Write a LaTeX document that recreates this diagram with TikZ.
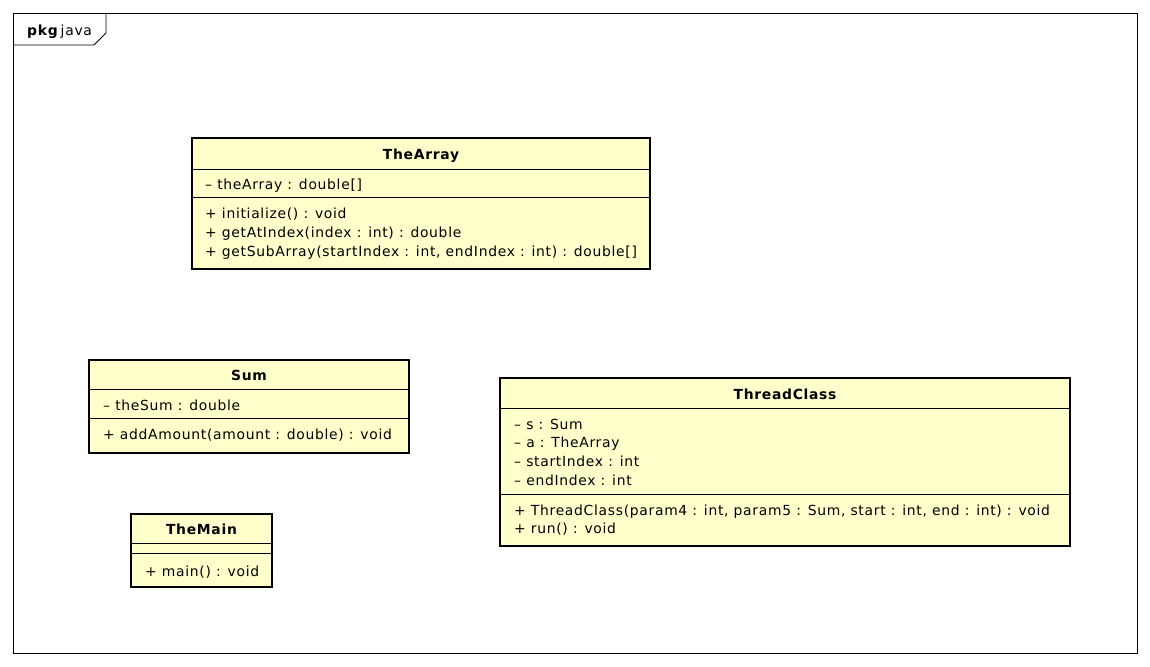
\documentclass[tikz,border=0pt]{standalone}
\usepackage{fontspec}
\setmainfont{DejaVu Sans}[LetterSpace=5]
\definecolor{classfill}{HTML}{FFFFCC}

\begin{document}
\begin{tikzpicture}[x=1pt,y=-1pt,font=\fontsize{13.9}{16}\selectfont]
\tikzset{
  classbox/.style={draw,line width=2.6pt,fill=classfill},
  divider/.style={line width=0.9pt},
  member/.style={anchor=base west,inner sep=0pt},
  classname/.style={anchor=base,inner sep=0pt,font=\fontsize{13.9}{16}\selectfont\bfseries}
}
\useasboundingbox (0,0) rectangle (1150,666);

% package frame
\draw[line width=0.9pt] (13,13) rectangle (1137,653);
\draw[line width=0.9pt] (13,45) -- (94,45) -- (106,33) -- (106,13);
\node[member] (pkg) at (27,36) {\textbf{pkg}\,java};

\begin{scope}[shift={(192,138)}]
\draw[classbox] (0,0) rectangle (458,131);
\draw[divider] (0,31) -- (458,31);
\draw[divider] (0,59) -- (458,59);
\node[classname] (arrayname) at (229,21) {TheArray};
\node[member] (arrayattr) at (13,51) {– theArray : double[]};
\node[member] (arrayinit) at (13,80) {+ initialize() : void};
\node[member] (arrayget) at (13,99) {+ getAtIndex(index : int) : double};
\node[member] (arraysub) at (13,118) {+ getSubArray(startIndex : int, endIndex : int) : double[]};
\end{scope}

\begin{scope}[shift={(89,360)}]
\draw[classbox] (0,0) rectangle (320,93);
\draw[divider] (0,29) -- (320,29);
\draw[divider] (0,58) -- (320,58);
\node[classname] (sumname) at (160,20) {Sum};
\node[member] (sumattr) at (14,50) {– theSum : double};
\node[member] (sumadd) at (14,79) {+ addAmount(amount : double) : void};
\end{scope}

\begin{scope}[shift={(500,378)}]
\draw[classbox] (0,0) rectangle (570,168);
\draw[divider] (0,30) -- (570,30);
\draw[divider] (0,116) -- (570,116);
\node[classname] (threadname) at (285,21) {ThreadClass};
\node[member] (threads) at (14,51) {– s : Sum};
\node[member] (threada) at (14,69) {– a : TheArray};
\node[member] (threadstart) at (14,88) {– startIndex : int};
\node[member] (threadend) at (14,107) {– endIndex : int};
\node[member] (threadctor) at (14,137) {+ ThreadClass(param4 : int, param5 : Sum, start : int, end : int) : void};
\node[member] (threadrun) at (14,155) {+ run() : void};
\end{scope}

\begin{scope}[shift={(131,514)}]
\draw[classbox] (0,0) rectangle (141,73);
\draw[divider] (0,29) -- (141,29);
\draw[divider] (0,39) -- (141,39);
\node[classname] (mainname) at (70.5,20) {TheMain};
\node[member] (mainmain) at (14,62) {+ main() : void};
\end{scope}

\end{tikzpicture}
\end{document}
